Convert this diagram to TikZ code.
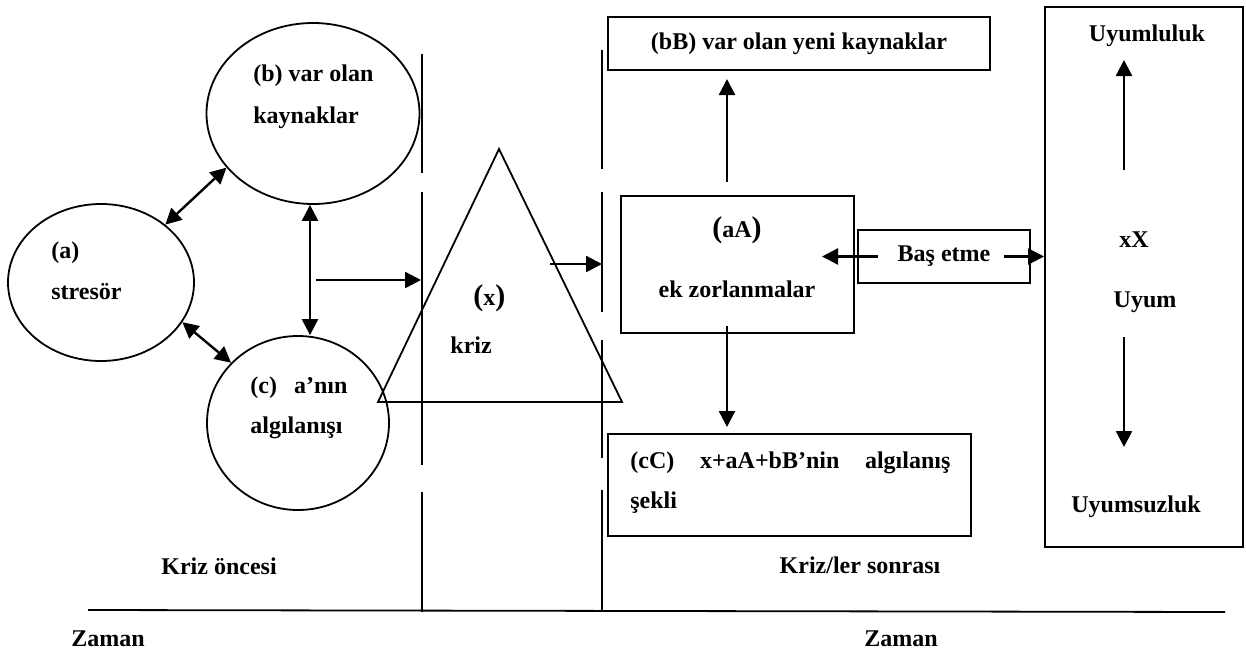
\documentclass[tikz,border=0pt]{standalone}
\usepackage{fontspec}
\setmainfont{Liberation Serif}
\usetikzlibrary{shapes.geometric, arrows.meta, calc}

\tikzset{
  lbl/.style={font=\fontsize{12}{14}\selectfont\bfseries, inner sep=0pt, anchor=base west},
  clbl/.style={lbl, anchor=base},
  oval/.style={draw, ellipse, line width=0.9pt, inner sep=0pt},
  kutu/.style={draw, rectangle, line width=1pt, inner sep=0pt, font=\fontsize{12}{14}\selectfont\bfseries},
  ok/.style={line width=1.2pt, -{Triangle[length=8pt,width=8pt]}},
  cift/.style={line width=1.2pt, {Triangle[length=8pt,width=8pt]}-{Triangle[length=8pt,width=8pt]}},
  cizgi/.style={line width=0.9pt}
}
\newcommand{\bpar}[1]{{\fontsize{15}{15}\selectfont#1}}

\begin{document}
\begin{tikzpicture}[x=0.5pt,y=-0.5pt]
  \useasboundingbox (0,0) rectangle (1246,653);

  % kriz oncesi
  \node[oval, minimum width=93pt, minimum height=78.5pt] (stresor) at (101,282.5) {};
  \node[oval, minimum width=106.5pt, minimum height=90.5pt] (kaynak) at (313,113.5) {};
  \node[oval, minimum width=91pt, minimum height=87pt] (algi) at (298,423) {};
  \node[lbl] (stresorA) at (51,258) {(a)};
  \node[lbl] (stresorB) at (51,299) {stresör};
  \node[lbl] (kaynakA) at (253,81) {(b) var olan};
  \node[lbl] (kaynakB) at (253,123) {kaynaklar};
  \node[lbl] (algiA) at (250,393) {(c)\hspace{8.5pt}a’nın};
  \node[lbl] (algiB) at (250,433) {algılanışı};

  \draw[cift] (stresor.42) -- (kaynak.212);
  \draw[cift] (stresor.-26) -- (algi.138);
  \coordinate (bc) at (310,0);
  \draw[cift] (bc |- kaynak.south) -- (bc |- algi.north);

  % kesik dikey cizgiler
  \foreach \ya/\yb in {54/173, 192/465, 492/612}
    \draw[cizgi] (422,\ya) -- (422,\yb);
  \foreach \ya/\yb in {50/169, 192/312, 340/458, 490/610}
    \draw[cizgi] (602,\ya) -- (602,\yb);

  % kriz
  \coordinate (krizT) at (499,149);
  \coordinate (krizL) at (378,402);
  \coordinate (krizR) at (622,402);
  \draw[line width=0.9pt] (krizT) -- (krizL) -- (krizR) -- cycle;
  \node[lbl] (krizA) at (473,305) {\bpar{(}x\bpar{)}};
  \node[lbl] (krizB) at (450,353) {kriz};

  \coordinate (ok1s) at (316,280);
  \coordinate (ok1e) at (421,280);
  \draw[ok] (ok1s) -- (ok1e);
  \coordinate (ok2s) at (550,264);
  \coordinate (ok2e) at (602,264);
  \draw[ok] (ok2s) -- (ok2e);

  % kriz sonrasi
  \node[kutu, minimum width=191pt, minimum height=26.5pt] (yeni) at (799,43.5) {(bB) var olan yeni kaynaklar};
  \node[kutu, minimum width=116.5pt, minimum height=68.5pt] (ekzor) at (737.5,264.5) {};
  \node[clbl] (ekzorA) at (737,237) {\bpar{(}aA\bpar{)}};
  \node[clbl] (ekzorB) at (737,297) {ek zorlanmalar};
  \node[kutu, minimum width=181.5pt, minimum height=51pt] (algis) at (789.5,485) {};
  \node[lbl] (algisA) at (630,468) {\hbox to 160pt{(cC)\hfill x+aA+bB’nin\hfill algılanış}};
  \node[lbl] (algisB) at (630,508) {şekli};
  \node[kutu, minimum width=86pt, minimum height=26.5pt] (basetme) at (944,256.5) {Baş etme};
  \node[kutu, minimum width=99pt, minimum height=270pt] (uyum) at (1144,277) {};

  \coordinate (col) at (727,0);
  \draw[ok] ($(col |- ekzor.north)+(0,-13)$) -- ($(col |- yeni.south)+(0,8)$);
  \draw[ok] ($(col |- ekzor.south)+(0,-8)$) -- ($(col |- algis.north)+(0,-6)$);

  \coordinate (basL) at (878,256.5);
  \coordinate (basLt) at (822,256.5);
  \coordinate (basR) at (1004,256.5);
  \draw[ok] (basL) -- (basLt);
  \draw[ok] (basR) -- (basR -| uyum.west);

  \node[clbl] (uyumA) at (1147,41) {Uyumluluk};
  \node[clbl] (uyumB) at (1134,247) {xX};
  \node[clbl] (uyumC) at (1145,307) {Uyum};
  \node[clbl] (uyumD) at (1136,512) {Uyumsuzluk};
  \coordinate (upS) at (1124,170);
  \coordinate (upE) at (1124,60);
  \coordinate (dnS) at (1124,337);
  \coordinate (dnE) at (1124,447);
  \draw[ok] (upS) -- (upE);
  \draw[ok] (dnS) -- (dnE);

  % zaman ekseni
  \node[clbl] (once) at (219,574) {Kriz öncesi};
  \node[clbl] (sonra) at (860,573) {Kriz/ler sonrası};
  \draw[cizgi] (88,610) -- (1225,612);
  \node[clbl] (zamanL) at (108,646) {Zaman};
  \node[clbl] (zamanR) at (901,646) {Zaman};
\end{tikzpicture}
\end{document}
